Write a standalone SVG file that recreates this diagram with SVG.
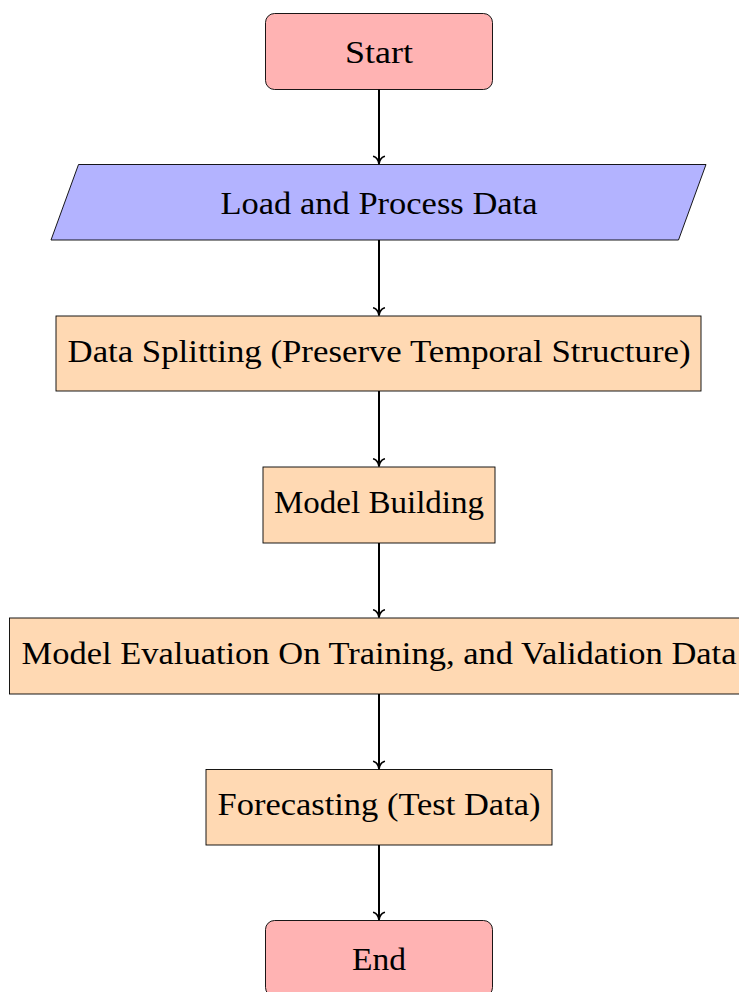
<svg xmlns="http://www.w3.org/2000/svg" width="739" height="992" viewBox="0 0 739 992">
<style>
.box{stroke:#000;stroke-width:0.9}
.term{fill:#FFB3B3}
.io{fill:#B3B3FF}
.proc{fill:#FFD9B3}
text{font-family:"Liberation Serif","Times New Roman",serif;font-size:31px;fill:#000;text-anchor:middle}
.conn{stroke:#000;stroke-width:2;fill:none;marker-end:url(#arr)}
</style>
<defs>
<marker id="arr" viewBox="-9 -7 11 14" markerWidth="11" markerHeight="14" refX="0" refY="0" orient="auto" markerUnits="userSpaceOnUse">
<path d="M-7,-5.2 C-6,-2 -2.6,-0.5 0,0 C-2.6,0.5 -6,2 -7,5.2" fill="none" stroke="#000" stroke-width="1.8" stroke-linecap="round" stroke-linejoin="round"/>
</marker>
</defs>
<g id="start">
<rect class="box term" x="265.5" y="13.5" width="227" height="76" rx="9"/>
<text x="379" y="63" textLength="68" lengthAdjust="spacingAndGlyphs">Start</text>
</g>
<g id="load">
<polygon class="box io" points="78.5,164.5 706,164.5 678.5,240 51,240"/>
<text x="379" y="214" textLength="317" lengthAdjust="spacingAndGlyphs">Load and Process Data</text>
</g>
<g id="split">
<rect class="box proc" x="56" y="316" width="645" height="75"/>
<text x="379" y="362" textLength="623" lengthAdjust="spacingAndGlyphs">Data Splitting (Preserve Temporal Structure)</text>
</g>
<g id="build">
<rect class="box proc" x="263" y="467" width="232" height="76"/>
<text x="379" y="513" textLength="210" lengthAdjust="spacingAndGlyphs">Model Building</text>
</g>
<g id="eval">
<rect class="box proc" x="9.5" y="618" width="739" height="76"/>
<text x="379" y="664" textLength="715" lengthAdjust="spacingAndGlyphs">Model Evaluation On Training, and Validation Data</text>
</g>
<g id="forecast">
<rect class="box proc" x="206" y="769.5" width="346" height="75.5"/>
<text x="379" y="815" textLength="323" lengthAdjust="spacingAndGlyphs">Forecasting (Test Data)</text>
</g>
<g id="end">
<rect class="box term" x="265.5" y="920.5" width="227" height="76" rx="9"/>
<text x="379" y="970" textLength="54" lengthAdjust="spacingAndGlyphs">End</text>
</g>
<g id="connectors">
<line class="conn" x1="379" y1="89.5" x2="379" y2="163.5"/>
<line class="conn" x1="379" y1="240" x2="379" y2="315"/>
<line class="conn" x1="379" y1="391" x2="379" y2="466"/>
<line class="conn" x1="379" y1="543" x2="379" y2="617"/>
<line class="conn" x1="379" y1="694" x2="379" y2="768.5"/>
<line class="conn" x1="379" y1="845" x2="379" y2="919.5"/>
</g>
</svg>
